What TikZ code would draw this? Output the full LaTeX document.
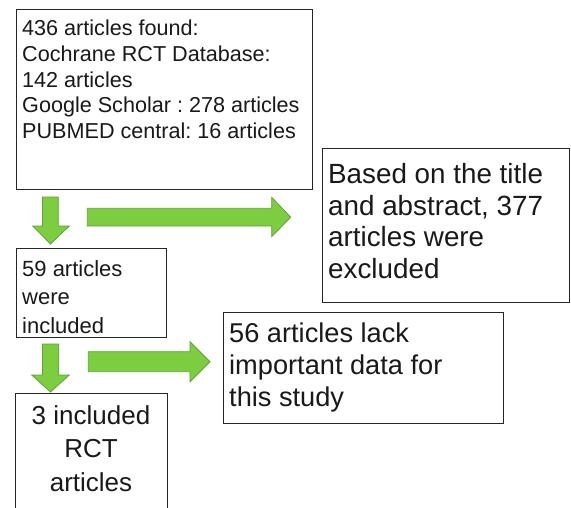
\documentclass[tikz,border=0pt]{standalone}
\usepackage{fontspec}
\setmainfont{Liberation Sans}
\frenchspacing
\begin{document}
\begin{tikzpicture}[x=1pt,y=-1pt]
\definecolor{arrfill}{RGB}{124,206,64}
\definecolor{arredge}{RGB}{96,162,52}
\tikzset{
  box/.style={draw=black!85, line width=1.3pt, rectangle, inner sep=0pt, anchor=north west},
  txt/.style={inner sep=0pt, anchor=north west, align=left, text=black!90},
  garrow/.style={fill=arrfill, draw=arredge, line width=0.8pt, line join=miter}
}
\useasboundingbox (0,0) rectangle (571,507);
\fill[white] (0,0) rectangle (571,507);
% boxes
\node[box, minimum width=296pt, minimum height=180pt] (b1) at (16,9) {};
\node[box, minimum width=247pt, minimum height=154pt] (b2) at (322,148) {};
\node[box, minimum width=150pt, minimum height=89pt] (b3) at (16,248) {};
\node[box, minimum width=280pt, minimum height=111pt] (b4) at (223,312) {};
\node[box, minimum width=152pt, minimum height=130pt] (b5) at (15,393) {};
% texts
\node[txt, font=\fontsize{21.6}{25.7}\selectfont\frenchspacing] (t1) at (22,20)
  {436 articles found:\\Cochrane RCT Database:\\142 articles\\Google Scholar : 278 articles\\PUBMED central: 16 articles};
\node[txt, font=\fontsize{27.8}{31.7}\selectfont\frenchspacing] (t2) at (328,163)
  {Based on the title\\and abstract, 377\\articles were\\excluded};
\node[txt, font=\fontsize{22}{28.5}\selectfont] (t3) at (22,260)
  {59 articles\\were\\included};
\node[txt, font=\fontsize{27.2}{32}\selectfont] (t4) at (229,323)
  {56 articles lack\\important data for\\this study};
\node[txt, anchor=north, align=center, font=\fontsize{26}{33.5}\selectfont] (t5) at (91,405)
  {3 included\\RCT\\articles};
% green block arrows
\draw[garrow] (42.5,197) -- (58.3,197) -- (58.3,226) -- (69.3,226) -- (50.5,244)
  -- (32.7,226) -- (42.5,226) -- cycle;
\draw[garrow] (87.3,208.3) -- (271.7,208.3) -- (271.7,197.3) -- (290.7,217.2)
  -- (271.7,236.7) -- (271.7,226) -- (87.3,226) -- cycle;
\draw[garrow] (42.5,344) -- (58.8,344) -- (58.8,375) -- (69.3,375) -- (50.5,392)
  -- (31.7,375) -- (42.5,375) -- cycle;
\draw[garrow] (88.3,351.7) -- (190,351.7) -- (190,341.7) -- (210,361.7)
  -- (190,381.7) -- (190,371.7) -- (88.3,371.7) -- cycle;
\end{tikzpicture}
\end{document}
